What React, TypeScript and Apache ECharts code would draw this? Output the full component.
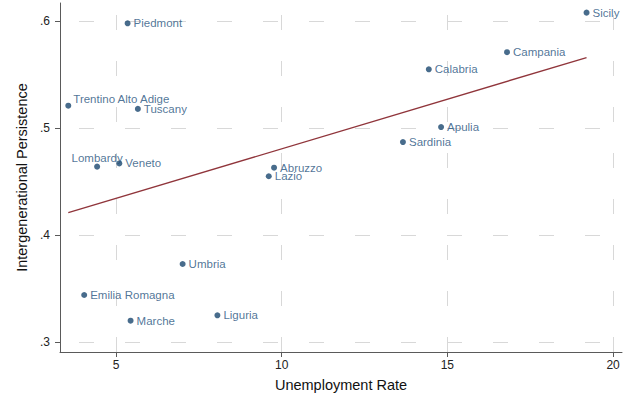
import React, { useEffect, useRef } from "react";
import * as echarts from "echarts";

const regions = [
  "Piedmont", "Trentino Alto Adige", "Lombardy", "Veneto", "Liguria",
  "Emilia Romagna", "Tuscany", "Umbria", "Marche", "Lazio", "Abruzzo",
  "Campania", "Apulia", "Calabria", "Sicily", "Sardinia",
];
const unemployment = [
  5.35, 3.56, 4.43, 5.10, 8.06, 4.04, 5.66, 7.01, 5.44, 9.61, 9.77,
  16.80, 14.81, 14.44, 19.20, 13.66,
];
const persistence = [
  0.598, 0.521, 0.464, 0.467, 0.325, 0.344, 0.518, 0.373, 0.320, 0.455, 0.463,
  0.571, 0.501, 0.555, 0.608, 0.487,
];
const fitX = [3.56, 19.2];
const fitY = [0.421, 0.566];
const xTicks = [5, 10, 15, 20];
const xTickLabels = ["5", "10", "15", "20"];
const yTicks = [0.3, 0.4, 0.5, 0.6];
const yTickLabels = [".3", ".4", ".5", ".6"];

const NAVY = "#1a476f";
const AXIS = "#5a5a5a";
const FONT = "Liberation Sans";

export default function App() {
  const ref = useRef<HTMLDivElement>(null);
  useEffect(() => {
    document.body.style.margin = "0";
    const chart = echarts.init(ref.current!, null, { renderer: "svg" });
    const specialLabel: Record<string, any> = {
      "Trentino Alto Adige": { position: "right", distance: 2, offset: [0, -7] },
      Lombardy: { position: "top", distance: 0 },
    };
    const points = regions.map((name, i) => ({
      name,
      value: [unemployment[i], persistence[i]],
      label: specialLabel[name] || {},
    }));
    const gridLine = {
      color: "#d8d8d8",
      width: 1,
      type: [15, 31],
    };
    chart.setOption({
      animation: false,
      grid: { left: 60, right: 9, top: 3, bottom: 49, containLabel: false },
      xAxis: {
        type: "value",
        min: 3.31,
        max: 20.27,
        name: "Unemployment Rate",
        nameLocation: "middle",
        nameGap: 25,
        nameTextStyle: { fontFamily: FONT, fontSize: 14.5, color: "#111" },
        axisLine: { onZero: false, lineStyle: { color: AXIS, width: 1 } },
        axisTick: { show: true, length: 5, customValues: xTicks, lineStyle: { color: AXIS } },
        axisLabel: {
          customValues: xTicks,
          formatter: (v: number) => xTickLabels[xTicks.indexOf(v)] ?? "",
          fontFamily: FONT,
          fontSize: 12,
          color: "#222",
          margin: 7,
        },
        splitLine: { show: false },
      },
      yAxis: {
        type: "value",
        min: 0.2907,
        max: 0.617,
        name: "Intergenerational Persistence",
        nameLocation: "middle",
        nameGap: 30,
        nameTextStyle: { fontFamily: FONT, fontSize: 14.5, color: "#111" },
        axisLine: { show: true, onZero: false, lineStyle: { color: AXIS, width: 1 } },
        axisTick: { show: true, length: 5, customValues: yTicks, lineStyle: { color: AXIS } },
        axisLabel: {
          customValues: yTicks,
          formatter: (v: number) => {
            const idx = yTicks.findIndex((t) => Math.abs(t - v) < 1e-9);
            return idx >= 0 ? yTickLabels[idx] : "";
          },
          fontFamily: FONT,
          fontSize: 12,
          color: "#222",
          margin: 10,
        },
        splitLine: { show: false },
      },
      series: [
        {
          type: "line",
          data: [],
          z: 0,
          silent: true,
          markLine: {
            z: 0,
            silent: true,
            symbol: ["none", "none"],
            label: { show: false },
            lineStyle: gridLine,
            data: [
              ...xTicks.map((v) => ({ xAxis: v })),
              ...yTicks.map((v) => ({ yAxis: v, lineStyle: { ...gridLine, dashOffset: 27 } })),
            ],
          },
        },
        {
          type: "line",
          data: fitX.map((x, i) => [x, fitY[i]]),
          symbol: "none",
          z: 2,
          lineStyle: { color: "#90353b", width: 1.3 },
        },
        {
          type: "scatter",
          data: points,
          z: 3,
          symbolSize: 6,
          itemStyle: { color: NAVY },
          label: {
            show: true,
            formatter: "{b}",
            position: "right",
            distance: 3,
            fontFamily: FONT,
            fontSize: 11.5,
            color: "#24527d",
          },
        },
      ],
    });
    return () => chart.dispose();
  }, []);
  return <div ref={ref} style={{ width: 631, height: 401 }} />;
}
